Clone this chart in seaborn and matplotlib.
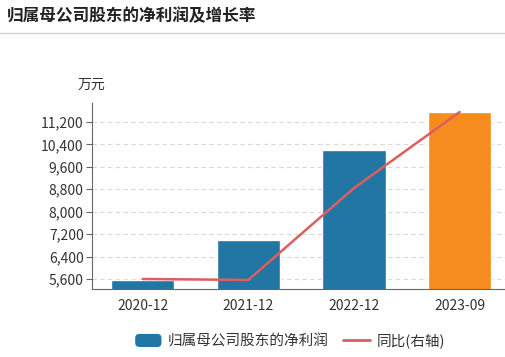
import numpy as np
import pandas as pd
import seaborn as sns
import matplotlib.pyplot as plt
from matplotlib.patches import Patch, FancyBboxPatch
from matplotlib.lines import Line2D
from matplotlib.legend_handler import HandlerPatch

# data
periods = ['2020-12', '2021-12', '2022-12', '2023-09']
net_profit = [5565, 7000, 10210, 11550]  # 万元
yoy_growth = [4.3, 3.9, 43.4, 76.1]      # %, right axis (hidden)
bar_colors = ['#2176a3', '#2176a3', '#2176a3', '#f68b1f']


class RoundHandler(HandlerPatch):
    # rounded legend swatch
    def create_artists(self, legend, orig_handle, xdescent, ydescent,
                       width, height, fontsize, trans):
        p = FancyBboxPatch((-xdescent, -ydescent), width, height,
                           boxstyle='round,pad=0,rounding_size=3',
                           facecolor=orig_handle.get_facecolor(),
                           edgecolor='none', transform=trans)
        return [p]


sns.set_style('white')
plt.rcParams['font.family'] = ['Noto Sans CJK SC', 'DejaVu Sans']
plt.rcParams['axes.unicode_minus'] = False

fig = plt.figure(figsize=(5.05, 3.57), dpi=100)
ax = fig.add_axes([92 / 505, 68 / 357, 413 / 505, 186 / 357])

df = pd.DataFrame({'period': periods, 'profit': net_profit})
sns.barplot(data=df, x='period', y='profit', hue='period', palette=bar_colors,
            width=0.6, saturation=1, legend=False, ax=ax)

ax.set_ylim(5243, 11878)
ax.set_xlim(-0.48, 3.43)
ax.set_yticks(np.arange(5600, 11201, 800))
ax.set_yticklabels([f'{v:,}' for v in range(5600, 11201, 800)])
ax.yaxis.grid(True, linestyle=(0, (4, 3)), color='#d9d9d9', linewidth=0.8)
ax.set_axisbelow(True)
ax.set_xlabel('')
ax.set_ylabel('')
ax.tick_params(axis='both', labelsize=10, colors='#666666',
               labelcolor='#333333', length=4, width=0.8)
ax.tick_params(axis='x', pad=3)
ax.tick_params(axis='y', pad=2)
for s in ['top', 'right']:
    ax.spines[s].set_visible(False)
for s in ['left', 'bottom']:
    ax.spines[s].set_color('#666666')
    ax.spines[s].set_linewidth(0.8)

ax2 = ax.twinx()
sns.lineplot(x=np.arange(len(periods)), y=yoy_growth, color='#dd5e5e',
             linewidth=1.8, ax=ax2)
ax2.set_ylim(0, 80)
ax2.set_yticks([])
ax2.set_ylabel('')
for s in ax2.spines.values():
    s.set_visible(False)

fig.text(91 / 505, 1 - 85 / 357, '万元', ha='center', va='center',
         fontsize=10, color='#333333')

fig.text(7 / 505, 1 - 16 / 357, '归属母公司股东的净利润及增长率', fontsize=12,
         fontweight='bold', color='#222222', va='center', ha='left')
fig.add_artist(Line2D([0, 1], [1 - 33 / 357, 1 - 33 / 357], color='#d0d0d0',
                      linewidth=1, transform=fig.transFigure))

handles = [Patch(facecolor='#2176a3', edgecolor='none'),
           Line2D([], [], color='#dd5e5e', linewidth=2)]
fig.legend(handles, ['归属母公司股东的净利润', '同比(右轴)'], loc='center',
           bbox_to_anchor=(290 / 505, 1 - 341 / 357), ncol=2, frameon=False,
           fontsize=10.5, handlelength=1.8, handleheight=1.0,
           columnspacing=1.0, handletextpad=0.45, labelcolor='#333333',
           handler_map={Patch: RoundHandler()})

fig.savefig('out.png', dpi=100)
